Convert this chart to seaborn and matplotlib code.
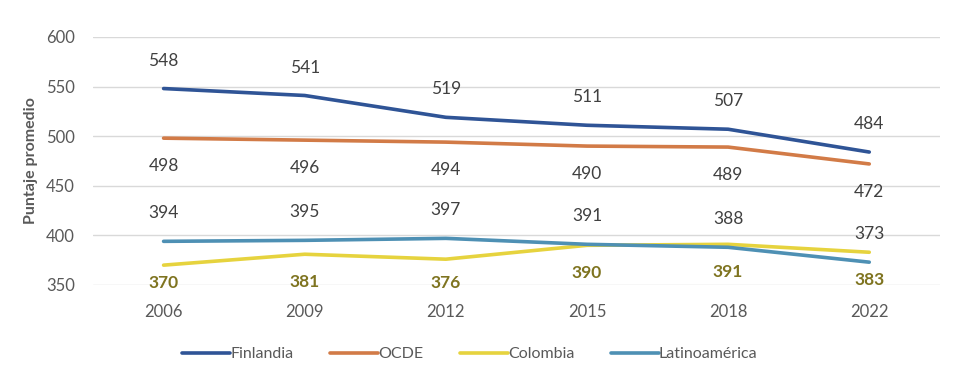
import matplotlib
matplotlib.use("Agg")
import matplotlib.pyplot as plt
import seaborn as sns
import pandas as pd

years = ["2006", "2009", "2012", "2015", "2018", "2022"]
finlandia = [548, 541, 519, 511, 507, 484]
ocde = [498, 496, 494, 490, 489, 472]
colombia = [370, 381, 376, 390, 391, 383]
latam = [394, 395, 397, 391, 388, 373]
series_names = ["Finlandia", "OCDE", "Colombia", "Latinoamérica"]
y_ticks = [350, 400, 450, 500, 550, 600]
y_label = "Puntaje promedio"

colors = {"Finlandia": "#2F5496", "OCDE": "#D27B47", "Colombia": "#E6D33E", "Latinoamérica": "#4E90B4"}

sns.set_theme(style="white")
plt.rcParams["font.family"] = ["Lato", "DejaVu Sans"]

values = {"Finlandia": finlandia, "OCDE": ocde, "Colombia": colombia, "Latinoamérica": latam}
rows = []
for name in series_names:
    for i, (yr, v) in enumerate(zip(years, values[name])):
        rows.append({"idx": i, "year": yr, "serie": name, "valor": v})
df = pd.DataFrame(rows)

fig = plt.figure(figsize=(9.59, 3.81), dpi=100)
ax = fig.add_axes([0.097, 0.252, 0.883, 0.651])

sns.lineplot(data=df, x="idx", y="valor", hue="serie", hue_order=series_names,
             palette=colors, linewidth=2.6, ax=ax, legend=True, sort=False)

ax.set_xlim(-0.5, len(years) - 0.5)
ax.set_ylim(350, 600)
ax.set_yticks(y_ticks)
ax.set_xticks(range(len(years)))
ax.set_xticklabels(years)
ax.tick_params(axis="both", length=0, labelsize=12, labelcolor="#595959")
ax.tick_params(axis="x", pad=14)
ax.tick_params(axis="y", pad=13)
ax.yaxis.grid(True, color="#D9D9D9", linewidth=1)
ax.set_axisbelow(True)
for s in ax.spines.values():
    s.set_visible(False)
ax.set_xlabel("")
ax.set_ylabel(y_label, fontsize=11.5, fontweight="bold", color="#595959", labelpad=6)

off = 28.2  # about 28 px in data units
for i in range(len(years)):
    ax.text(i, finlandia[i] + off, str(finlandia[i]), ha="center", va="center", fontsize=12.5, color="#404040")
    ax.text(i, ocde[i] - off, str(ocde[i]), ha="center", va="center", fontsize=12.5, color="#404040")
    ax.text(i, latam[i] + off, str(latam[i]), ha="center", va="center", fontsize=12.5, color="#404040")
    ax.text(i, max(colombia[i] - off, 352.5), str(colombia[i]), ha="center", va="center", fontsize=12.5,
            color="#7F7420", fontweight="bold", clip_on=False)

handles, labels = ax.get_legend_handles_labels()
leg = ax.legend(handles, labels, loc="center", bbox_to_anchor=(0.49, (381 - 354) / 381),
                bbox_transform=fig.transFigure, ncol=4, frameon=False, fontsize=11.5,
                handlelength=3.0, handletextpad=0.0, columnspacing=2.3)
for t in leg.get_texts():
    t.set_color("#595959")
for l in leg.get_lines():
    l.set_linewidth(2.6)

fig.savefig("out.png", dpi=100)
